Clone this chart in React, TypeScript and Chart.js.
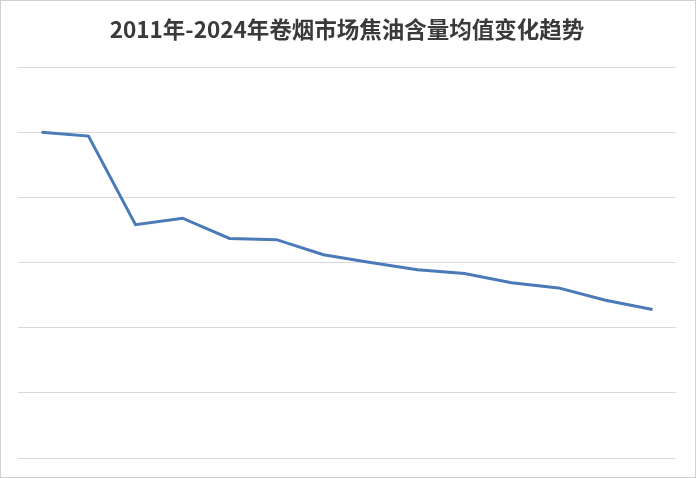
import { useEffect, useRef } from "react"
import { Chart, registerables } from "chart.js"

Chart.register(...registerables)

const years = [
  "2011", "2012", "2013", "2014", "2015", "2016", "2017",
  "2018", "2019", "2020", "2021", "2022", "2023", "2024",
]
// average tar content (estimated, mg)
const tarValues = [
  12.0, 11.94, 10.58, 10.68, 10.37, 10.35, 10.12,
  10.0, 9.89, 9.83, 9.69, 9.61, 9.42, 9.28,
]
const chartTitle = "2011年-2024年卷烟市场焦油含量均值变化趋势"

export default function App() {
  const chartRef = useRef<HTMLCanvasElement>(null)
  const chartInstance = useRef<Chart | null>(null)

  useEffect(() => {
    if (!chartRef.current) return
    if (chartInstance.current) chartInstance.current.destroy()
    const ctx = chartRef.current.getContext("2d")
    if (!ctx) return

    chartInstance.current = new Chart(ctx, {
      type: "line",
      data: {
        labels: years,
        datasets: [
          {
            label: "焦油含量均值",
            data: tarValues,
            borderColor: "#4a7ab8",
            borderWidth: 3,
            pointRadius: 0,
            tension: 0,
            fill: false,
          },
        ],
      },
      options: {
        responsive: true,
        maintainAspectRatio: false,
        animation: false,
        layout: { padding: { left: 17, right: 19, top: 0, bottom: 11 } },
        plugins: {
          legend: { display: false },
          tooltip: { enabled: false },
          title: {
            display: true,
            text: chartTitle,
            color: "#3a3a3a",
            font: { family: "'Noto Sans CJK SC', sans-serif", size: 22.5, weight: "bold" },
            padding: { top: 15, bottom: 24 },
          },
        },
        scales: {
          x: {
            offset: true,
            grid: { display: false },
            border: { display: false },
            ticks: { display: false },
          },
          y: {
            min: 7,
            max: 13,
            ticks: { display: false, stepSize: 1 },
            grid: { color: "#d9d9d9", lineWidth: 1, drawTicks: false },
            border: { display: false },
          },
        },
      },
    })

    return () => {
      if (chartInstance.current) chartInstance.current.destroy()
    }
  }, [])

  return (
    <div
      style={{
        position: "absolute",
        left: 0,
        top: 0,
        width: 696,
        height: 478,
        boxSizing: "border-box",
        border: "1px solid #d0d0d0",
        background: "#fff",
      }}
    >
      <canvas ref={chartRef} />
    </div>
  )
}
